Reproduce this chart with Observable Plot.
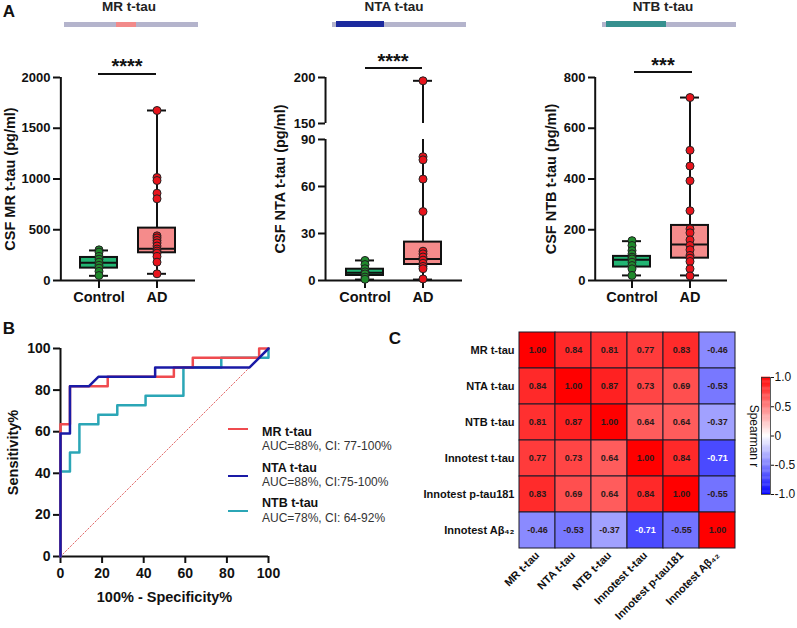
<!DOCTYPE html>
<html>
<head>
<meta charset="utf-8">
<script src="https://cdn.jsdelivr.net/npm/d3@7"></script>
<script src="https://cdn.jsdelivr.net/npm/@observablehq/plot@0.6"></script>
<style>
  html, body { margin: 0; padding: 0; background: #fff; }
  #fig { position: relative; width: 797px; height: 628px; overflow: hidden;
         font-family: "Liberation Sans", Arial, Helvetica, sans-serif; color: #111; }
  .lbl { position: absolute; white-space: nowrap; line-height: 1; transform: translate(-50%, -50%); }
  .lbl-left { position: absolute; white-space: nowrap; line-height: 1; transform: translate(0, -50%); }
  .blk { position: absolute; }
</style>
</head>
<body>
<div id="fig"></div>
<script>
// ---------------- DATA ----------------
const groups = ["Control", "AD"];

// Panel A — MR t-tau (pg/ml)
const mrControl = [302, 280, 236, 210, 181, 150, 122, 90, 49];
const mrAD = [1675, 1015, 985, 860, 805, 440, 420, 395, 370, 340, 310, 290, 270, 236, 181, 66];
const mrControlBox = [46, 122, 175, 227, 296];      // min, q1, median, q3, max
const mrADBox = [66, 273, 312, 516, 1675];
const mrTicks = [0, 500, 1000, 1500, 2000];

// Panel A — NTA t-tau (pg/ml), broken axis 90 → 150
const ntaControl = [12.8, 10.2, 7.5, 5.5, 4.2, 2.2, 0.8];
const ntaAD = [196.4, 79, 77, 64.7, 44, 18.7, 17, 15, 13, 11, 9, 7.5, 1];
const ntaControlBox = [0.6, 3.2, 5, 7.2, 12.8];
const ntaADBox = [0.6, 10.2, 13.8, 24.5, 196.4];
const ntaTicks = [0, 30, 60, 90, 150, 200];
const ntaBreak = [90, 150];

// Panel A — NTB t-tau (pg/ml)
const ntbControl = [157, 138, 118, 105, 92, 85, 72, 59, 46, 20];
const ntbAD = [721, 513, 451, 393, 275, 203, 188, 160, 138, 121, 99, 88, 75, 46, 18];
const ntbControlBox = [20, 53, 82, 95, 155];
const ntbADBox = [20, 88, 142, 217, 721];
const ntbTicks = [0, 200, 400, 600, 800];

// Panel B — ROC curves (100% - specificity %, sensitivity %)
const rocMrFpr  = [0, 0, 4.55, 4.55, 22.7, 22.7, 54.5, 54.5, 63.6, 63.6, 95.5, 95.5, 100];
const rocMrTpr  = [0, 63.6, 63.6, 81.8, 81.8, 86.4, 86.4, 90.9, 90.9, 95.5, 95.5, 100, 100];
const rocNtaFpr = [0, 0, 4.55, 4.55, 13.6, 18.2, 45.5, 45.5, 90.9, 100];
const rocNtaTpr = [0, 59.1, 59.1, 81.8, 81.8, 86.4, 86.4, 90.9, 90.9, 100];
const rocNtbFpr = [0, 0, 4.55, 4.55, 9.09, 9.09, 18.2, 18.2, 27.3, 27.3, 40.9, 40.9, 59.1, 59.1, 77.3, 77.3, 100, 100];
const rocNtbTpr = [0, 40.9, 40.9, 50, 50, 63.6, 63.6, 68.2, 68.2, 72.7, 72.7, 77.3, 77.3, 90.9, 90.9, 95.5, 95.5, 100];
const chanceX = [0, 100];
const chanceY = [0, 100];
const rocTicks = [0, 20, 40, 60, 80, 100];
const rocNames = ["MR t-tau", "NTA t-tau", "NTB t-tau"];
const rocAuc = ["AUC=88%, CI: 77-100%", "AUC=88%, CI:75-100%", "AUC=78%, CI: 64-92%"];

// Panel C — Spearman correlation matrix
const corrLabels = ["MR t-tau", "NTA t-tau", "NTB t-tau", "Innotest t-tau", "Innotest p-tau181", "Innotest Aβ₄₂"];
const corrMR    = [1.00, 0.84, 0.81, 0.77, 0.83, -0.46];
const corrNTA   = [0.84, 1.00, 0.87, 0.73, 0.69, -0.53];
const corrNTB   = [0.81, 0.87, 1.00, 0.64, 0.64, -0.37];
const corrInnoT = [0.77, 0.73, 0.64, 1.00, 0.84, -0.71];
const corrInnoP = [0.83, 0.69, 0.64, 0.84, 1.00, -0.55];
const corrInnoA = [-0.46, -0.53, -0.37, -0.71, -0.55, 1.00];
const colorbarTicks = [-1, -0.5, 0, 0.5, 1];

// ---------------- HELPERS ----------------
const fig = document.getElementById("fig");
const FONT = '"Liberation Sans", Arial, Helvetica, sans-serif';
function baseStyle(left, top) {
  return {position: "absolute", left: left + "px", top: top + "px", background: "transparent",
          overflow: "visible", fontFamily: FONT, fontWeight: "bold", fontSize: "13px", color: "#111"};
}
function label(text, x, y, {size = 13, weight = "bold", color = "#111", start = false} = {}) {
  const d = document.createElement("div");
  d.className = start ? "lbl-left" : "lbl";
  Object.assign(d.style, {left: x + "px", top: y + "px", fontSize: size + "px", fontWeight: weight, color});
  d.textContent = text;
  fig.appendChild(d);
}
function block(x, y, w, h, color) {
  const d = document.createElement("div");
  d.className = "blk";
  Object.assign(d.style, {left: x + "px", top: y + "px", width: w + "px", height: h + "px", background: color});
  fig.appendChild(d);
}

// ---------------- PANEL A ----------------
const boxFill = {Control: "#22b573", AD: "#f58b8b"};
const dotFill = {Control: "#1f8a2c", AD: "#e8141c"};

function boxPanel(cfg) {
  const {left, width, mL, mR, po, control, ad, controlBox, adBox, ticks, yBreak, yLabel, labelDx} = cfg;
  const H = 270, mT = 37, mB = 30, pi = 0.36;
  const step = (width - mL - mR) / (groups.length - pi + 2 * po);
  const c0 = po * step + step * (1 - pi) / 2;
  // broken-axis transform: values above the break are compressed and shifted by a gap
  const gap = cfg.breakGap || 0, k = cfg.breakScale || 1;
  const tf = v => (!yBreak || v <= yBreak[0]) ? v : yBreak[0] + gap + (v - yBreak[1]) * k;
  const inv = t => (!yBreak || t <= yBreak[0]) ? t : yBreak[1] + (t - yBreak[0] - gap) / k;
  const toStats = (g, b) => ({g, min: tf(b[0]), q1: tf(b[1]), med: tf(b[2]), q3: tf(b[3]), max: tf(b[4])});
  const stats = [toStats("Control", controlBox), toStats("AD", adBox)];
  const pts = [...control.map(v => ({g: "Control", v: tf(v)})), ...ad.map(v => ({g: "AD", v: tf(v)}))];
  const yTop = ticks[ticks.length - 1];
  const split = (a, b) => (yBreak && b > yBreak[0]) ? [[a, yBreak[0]], [yBreak[1], b]] : [[a, b]];
  const rawBox = {Control: controlBox, AD: adBox};
  const whiskers = groups.flatMap(g => split(rawBox[g][0], rawBox[g][4]).map(([y1, y2]) => ({g, y1: tf(y1), y2: tf(y2)})));
  const axisSegs = split(0, yTop).map(([y1, y2]) => ({y1: tf(y1), y2: tf(y2)}));
  const svg = Plot.plot({
    width, height: H, marginLeft: mL, marginRight: mR, marginTop: mT, marginBottom: mB,
    style: baseStyle(left, 40),
    x: {type: "band", domain: groups, paddingInner: pi, paddingOuter: po},
    y: {domain: [0, tf(yTop)]},
    color: {type: "identity"},
    marks: [
      Plot.ruleY([0], {stroke: "#111", strokeWidth: 2}),
      Plot.ruleX(axisSegs, {x: () => groups[0], y1: "y1", y2: "y2", dx: -c0, stroke: "#111", strokeWidth: 2}),
      Plot.axisY({ticks: ticks.map(tf), tickSize: 7, tickPadding: 3, strokeWidth: 2,
                  tickFormat: t => String(Math.round(inv(t))), label: null, fontSize: 13}),
      Plot.axisX({tickSize: 8, tickPadding: 3, strokeWidth: 2, label: null, fontSize: 14.5}),
      Plot.ruleX(whiskers, {x: "g", y1: "y1", y2: "y2", stroke: "#111", strokeWidth: 2}),
      Plot.tickY(stats, {x: "g", y: "min", insetLeft: 9, insetRight: 9, stroke: "#111", strokeWidth: 2}),
      Plot.tickY(stats, {x: "g", y: "max", insetLeft: 9, insetRight: 9, stroke: "#111", strokeWidth: 2}),
      Plot.barY(stats, {x: "g", y1: "q1", y2: "q3", fill: d => boxFill[d.g], stroke: "#111", strokeWidth: 2}),
      Plot.tickY(stats, {x: "g", y: "med", stroke: "#111", strokeWidth: 2}),
      Plot.dot(pts, {x: "g", y: "v", r: 4, fill: d => dotFill[d.g], stroke: "#222", strokeWidth: 1}),
      Plot.text([yLabel], {text: d => d, frameAnchor: "left", textAnchor: "middle", lineAnchor: "middle",
                           rotate: -90, dx: labelDx, fontSize: 14.5})
    ]
  });
  fig.appendChild(svg);
}

boxPanel({left: 0, width: 205, mL: 60, mR: 10, po: 0.33, control: mrControl, ad: mrAD,
          controlBox: mrControlBox, adBox: mrADBox, ticks: mrTicks, yLabel: "CSF MR t-tau (pg/ml)", labelDx: -50});
boxPanel({left: 255, width: 215, mL: 70, mR: 8, po: 0.36, control: ntaControl, ad: ntaAD,
          controlBox: ntaControlBox, adBox: ntaADBox, ticks: ntaTicks, yBreak: ntaBreak,
          breakGap: 10.2, breakScale: 0.587, yLabel: "CSF NTA t-tau (pg/ml)", labelDx: -45});
boxPanel({left: 520, width: 215, mL: 75, mR: 8, po: 0.31, control: ntbControl, ad: ntbAD,
          controlBox: ntbControlBox, adBox: ntbADBox, ticks: ntbTicks, yLabel: "CSF NTB t-tau (pg/ml)", labelDx: -44});

// titles, protein schematic bars, significance
label("A", 9, 11, {size: 17});
label("MR t-tau", 129, 7, {size: 13.5, color: "#222"});
label("NTA t-tau", 394, 7, {size: 13.5, color: "#222"});
label("NTB t-tau", 663, 7, {size: 13.5, color: "#222"});
block(64, 22, 134, 5, "#b4b4cc"); block(116, 22, 20, 5, "#f28a8a");
block(332, 22, 134, 5, "#b4b4cc"); block(336, 21, 48, 6, "#1c2a9e");
block(602, 22, 134, 5, "#b4b4cc"); block(606, 21, 60, 6, "#36908f");
block(98, 73, 58, 2, "#111"); label("****", 127, 66, {size: 20});
block(365, 67, 57, 2, "#111"); label("****", 393, 61, {size: 20});
block(634, 71, 58, 2, "#111"); label("***", 663, 65, {size: 20});

// ---------------- PANEL B ----------------
const zip = (a, b) => a.map((v, i) => [v, b[i]]);
const rocSeries = [
  {name: rocNames[2], color: "#2ba6b6", pts: zip(rocNtbFpr, rocNtbTpr)},
  {name: rocNames[0], color: "#ef4b4f", pts: zip(rocMrFpr, rocMrTpr)},
  {name: rocNames[1], color: "#1a1aa6", pts: zip(rocNtaFpr, rocNtaTpr)}
];
const rocSvg = Plot.plot({
  width: 390, height: 308, marginLeft: 60, marginRight: 122, marginTop: 28, marginBottom: 72,
  style: baseStyle(0, 320),
  x: {domain: [0, 100]}, y: {domain: [0, 100]},
  marks: [
    Plot.ruleX([0], {stroke: "#111", strokeWidth: 2}),
    Plot.ruleY([0], {stroke: "#111", strokeWidth: 2}),
    Plot.axisX({ticks: rocTicks, tickSize: 7, tickPadding: 5, strokeWidth: 2, tickFormat: d => String(d), label: null, fontSize: 14}),
    Plot.axisY({ticks: rocTicks, tickSize: 7, tickPadding: 3, strokeWidth: 2, tickFormat: d => String(d), label: null, fontSize: 14}),
    Plot.line(zip(chanceX, chanceY), {x: d => d[0], y: d => d[1], stroke: "#e26a6a", strokeWidth: 1, strokeDasharray: "1.5,2"}),
    ...rocSeries.map(s => Plot.line(s.pts, {x: d => d[0], y: d => d[1], stroke: s.color, strokeWidth: 2.5})),
    Plot.text(["100% - Specificity%"], {text: d => d, frameAnchor: "bottom", lineAnchor: "middle", textAnchor: "middle", dy: 41, fontSize: 14.5}),
    Plot.text(["Sensitivity%"], {text: d => d, frameAnchor: "left", textAnchor: "middle", lineAnchor: "middle", rotate: -90, dx: -47, fontSize: 14.5})
  ]
});
fig.appendChild(rocSvg);
label("B", 9, 328, {size: 17});
// legend
const legendColors = ["#ef4b4f", "#1a1aa6", "#2ba6b6"];
const legendLineY = [429, 476, 511];
const legendNameY = [432, 468, 503];
const legendAucY = [446, 482, 518];
rocNames.forEach((n, i) => {
  block(228, legendLineY[i] - 1.25, 20, 2.5, legendColors[i]);
  label(n, 262, legendNameY[i], {size: 12.5, start: true});
  label(rocAuc[i], 262, legendAucY[i], {size: 12, weight: "normal", color: "#333", start: true});
});

// ---------------- PANEL C ----------------
const corrRows = [corrMR, corrNTA, corrNTB, corrInnoT, corrInnoP, corrInnoA];
const cells = corrRows.flatMap((row, i) => row.map((v, j) => ({row: corrLabels[i], col: corrLabels[j], v})));
const corrColor = {type: "linear", domain: [-1, 0, 1], range: ["#0000ff", "#ffffff", "#ff0000"], interpolate: "rgb"};
const heatSvg = Plot.plot({
  width: 360, height: 308, marginLeft: 127, marginRight: 13, marginTop: 11, marginBottom: 79,
  style: baseStyle(390, 320),
  x: {type: "band", domain: corrLabels, padding: 0},
  y: {type: "band", domain: corrLabels, padding: 0},
  color: corrColor,
  marks: [
    Plot.cell(cells, {x: "col", y: "row", fill: "v", stroke: "#1a1a2a", strokeWidth: 1}),
    Plot.text(cells.filter(d => d.v >= -0.6), {x: "col", y: "row", text: d => d.v.toFixed(2), fill: "#2a1a1a", fontSize: 9, fontWeight: "bold"}),
    Plot.text(cells.filter(d => d.v < -0.6), {x: "col", y: "row", text: d => d.v.toFixed(2), fill: "#ffffff", fontSize: 9, fontWeight: "bold"}),
    Plot.axisY({tickSize: 0, tickPadding: 3, label: null, fontSize: 11}),
    Plot.axisX({tickSize: 0, tickPadding: 4, tickRotate: -45, label: null, fontSize: 11})
  ]
});
fig.appendChild(heatSvg);
label("C", 395, 338, {size: 17});

// colour bar
const rampSteps = d3.range(-1, 1, 0.02);
const barSvg = Plot.plot({
  width: 52, height: 140, marginLeft: 16, marginRight: 27, marginTop: 12, marginBottom: 11,
  style: baseStyle(745, 365),
  x: {domain: [0, 1], axis: null},
  y: {domain: [-1, 1]},
  color: corrColor,
  marks: [
    Plot.rect(rampSteps, {x1: 0, x2: 1, y1: d => d, y2: d => d + 0.025, fill: d => d + 0.01}),
    Plot.frame({stroke: "#333", strokeWidth: 0.8}),
    Plot.axisY({anchor: "right", ticks: colorbarTicks, tickFormat: d => d === 0 ? "0" : d.toFixed(1),
                tickSize: 3, tickPadding: 1, fontSize: 12, fontWeight: "normal", label: null}),
    Plot.text(["Spearman r"], {text: d => d, frameAnchor: "left", textAnchor: "middle", lineAnchor: "middle",
                               rotate: 90, dx: -8, fontSize: 12, fontWeight: "normal"})
  ]
});
fig.appendChild(barSvg);
</script>
</body>
</html>
